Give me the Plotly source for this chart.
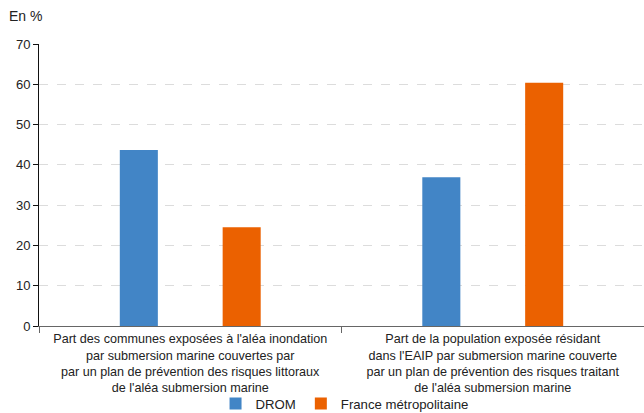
import plotly.graph_objects as go

categories = [
    "Part des communes exposées à l'aléa inondation<br>par submersion marine couvertes par<br>par un plan de prévention des risques littoraux<br>de l'aléa submersion marine",
    "Part de la population exposée résidant<br>dans l'EAIP par submersion marine couverte<br>par un plan de prévention des risques traitant<br>de l'aléa submersion marine",
]
drom = [43.7, 36.9]
metro = [24.5, 60.4]
y_ticks = [0, 10, 20, 30, 40, 50, 60, 70]

FONT = "Liberation Sans, Arial, Helvetica, sans-serif"

fig = go.Figure()
fig.add_trace(go.Bar(name="DROM", x=categories, y=drom, marker_color="#4285c6",
                     marker_line_width=0, hoverinfo="y"))
fig.add_trace(go.Bar(name="France métropolitaine", x=categories, y=metro,
                     marker_color="#eb6100", marker_line_width=0, hoverinfo="y"))

fig.update_layout(
    width=644, height=413,
    margin=dict(l=39, r=0, t=44, b=87, autoexpand=False),
    paper_bgcolor="white", plot_bgcolor="white",
    barmode="group", bargap=0.32, bargroupgap=0.63,
    font=dict(family=FONT, size=12, color="#222"),
    showlegend=True,
    legend=dict(orientation="h", x=0.535, xanchor="center", xref="container",
                y=-0.276, yanchor="middle", yref="paper",
                bgcolor="rgba(0,0,0,0)",
                font=dict(size=13.2, color="#222"), traceorder="normal",
                itemwidth=30, tracegroupgap=0),
)
fig.add_annotation(text="En %", xref="paper", yref="paper", x=-32/605, y=1 + 28/282,
                   xanchor="left", yanchor="middle", showarrow=False,
                   font=dict(size=14, color="#222", family=FONT))

fig.update_xaxes(
    showline=True, linecolor="#666", linewidth=1,
    ticks="outside", tickson="boundaries", ticklen=6, tickcolor="#666",
    tickfont=dict(size=12.6, color="#222"), ticklabelstandoff=1,
    showgrid=False, automargin=False,
)
fig.update_yaxes(
    range=[0, 70], tickvals=y_ticks,
    showline=True, linecolor="#111", linewidth=1,
    ticks="outside", ticklen=5, tickcolor="#111",
    tickfont=dict(size=13, color="#222"),
    showgrid=True, gridcolor="#dcdcdc", griddash="dash", gridwidth=1,
    zeroline=False, automargin=False,
)

fig.write_html("out.html", config={"displayModeBar": False},
               post_script="document.body.style.margin='0';document.body.style.overflow='hidden';")
